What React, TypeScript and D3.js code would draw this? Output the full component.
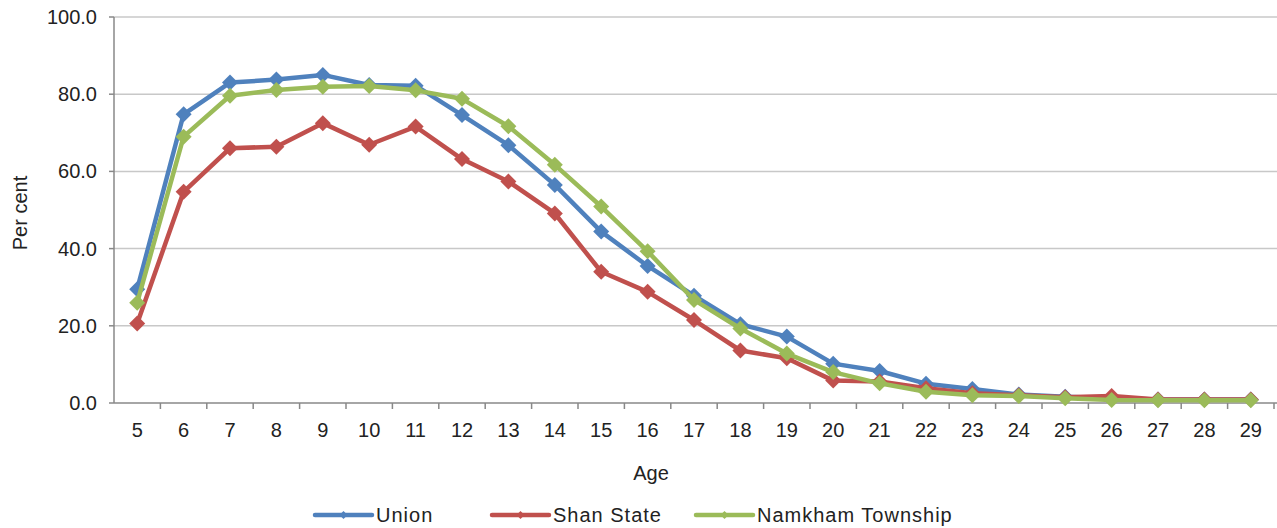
import React from 'react'
import * as d3 from 'd3'

const ages = [5, 6, 7, 8, 9, 10, 11, 12, 13, 14, 15, 16, 17, 18, 19, 20, 21, 22, 23, 24, 25, 26, 27, 28, 29]
const union = [29.5, 74.8, 83.0, 83.8, 85.0, 82.4, 82.2, 74.6, 66.8, 56.5, 44.4, 35.5, 27.8, 20.4, 17.2, 10.2, 8.3, 5.0, 3.6, 2.2, 1.6, 1.2, 0.9, 0.9, 0.9]
const shan = [20.6, 54.7, 66.0, 66.4, 72.5, 66.9, 71.6, 63.2, 57.4, 49.1, 34.0, 28.8, 21.5, 13.6, 11.6, 5.8, 5.6, 3.8, 2.5, 2.0, 1.5, 1.8, 0.9, 0.9, 0.9]
const namkham = [26.0, 69.0, 79.6, 81.1, 81.9, 82.1, 81.0, 78.8, 71.7, 61.7, 50.9, 39.3, 26.7, 19.3, 12.8, 8.0, 5.1, 2.9, 2.0, 1.8, 1.2, 0.8, 0.7, 0.7, 0.7]
const seriesNames = ['Union', 'Shan State', 'Namkham Township']
const seriesColors = ['#4F81BD', '#C0504D', '#9BBB59']
const yTicks = [0, 20, 40, 60, 80, 100]

const W = 1277
const H = 528
const left = 114
const right = 1274
const top = 17
const bottom = 403
const font = '"Liberation Sans", Arial, sans-serif'
const fs = 20

function diamond(cx: number, cy: number, r: number) {
  return `M${cx},${cy - r}L${cx + r},${cy}L${cx},${cy + r}L${cx - r},${cy}Z`
}

export default function App() {
  const x = d3.scaleBand<number>().domain(ages).range([left, right]).padding(0)
  const y = d3.scaleLinear().domain([0, 100]).range([bottom, top])
  const cx = (a: number) => (x(a) as number) + x.bandwidth() / 2
  const line = d3.line<number>().x((_, i) => cx(ages[i])).y(d => y(d))
  const data = [union, shan, namkham]

  // legend: where each item's text starts; the line sits just before it
  const legendText = [376, 553, 757]
  const legendLine = 57
  const legendY = 515

  return (
    <svg width={W} height={H} style={{ position: 'absolute', left: 0, top: 0, background: '#fff' }} fontFamily={font}>
      {/* gridlines */}
      {yTicks.filter(t => t > 0).map(t => (
        <line key={t} x1={left} x2={W} y1={y(t)} y2={y(t)} stroke="#C8C8C8" strokeWidth={1.5} />
      ))}
      {/* y axis */}
      <line x1={left} x2={left} y1={top} y2={bottom} stroke="#888" strokeWidth={1.5} />
      {yTicks.map(t => (
        <g key={t}>
          <line x1={left - 5} x2={left} y1={y(t)} y2={y(t)} stroke="#888" strokeWidth={1.5} />
          <text x={97} y={y(t)} dy="0.35em" textAnchor="end" fontSize={fs} fill="#222">{t.toFixed(1)}</text>
        </g>
      ))}
      {/* x axis */}
      <line x1={left} x2={W} y1={bottom} y2={bottom} stroke="#888" strokeWidth={1.5} />
      {ages.map(a => (
        <line key={'t' + a} x1={(x(a) as number) + x.bandwidth()} x2={(x(a) as number) + x.bandwidth()} y1={bottom} y2={bottom + 6} stroke="#888" strokeWidth={1.5} />
      ))}
      {ages.map(a => (
        <text key={'l' + a} x={cx(a)} y={437} textAnchor="middle" fontSize={fs} fill="#222">{a}</text>
      ))}
      <text x={651} y={480} textAnchor="middle" fontSize={fs} fill="#222">Age</text>
      <text transform={`translate(27,213) rotate(-90)`} textAnchor="middle" fontSize={fs} fill="#222">Per cent</text>

      {/* series */}
      {data.map((vals, si) => (
        <g key={si}>
          <path d={line(vals) ?? ''} fill="none" stroke={seriesColors[si]} strokeWidth={4.5} strokeLinejoin="round" />
          {vals.map((v, i) => (
            <path key={i} d={diamond(cx(ages[i]), y(v), 8)} fill={seriesColors[si]} />
          ))}
        </g>
      ))}

      {/* legend */}
      {seriesNames.map((n, i) => (
        <g key={n}>
          <line x1={legendText[i] - 4 - legendLine} x2={legendText[i] - 4} y1={legendY} y2={legendY} stroke={seriesColors[i]} strokeWidth={4.5} strokeLinecap="round" />
          <path d={diamond(legendText[i] - 4 - legendLine / 2, legendY, 4)} fill={seriesColors[i]} />
          <text x={legendText[i]} y={legendY + 7} fontSize={fs} letterSpacing={1} fill="#222">{n}</text>
        </g>
      ))}
    </svg>
  )
}
